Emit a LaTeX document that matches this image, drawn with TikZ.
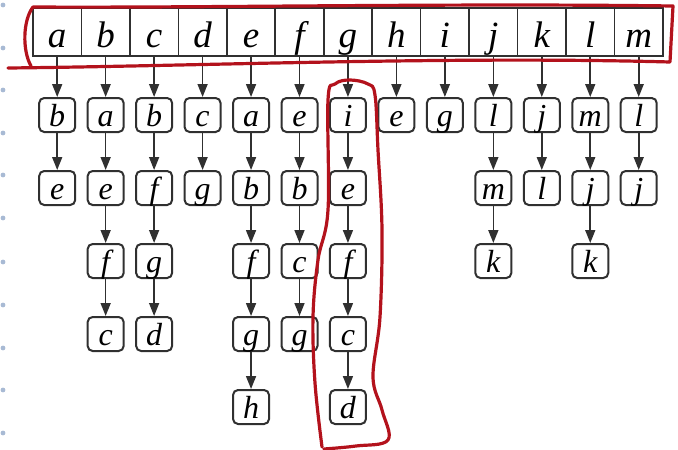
\documentclass[tikz,border=0pt]{standalone}
\usepackage{fontspec}
\setmainfont{Liberation Serif}
\usetikzlibrary{arrows.meta}
\definecolor{ink}{HTML}{303030}
\definecolor{mark}{HTML}{B3121C}
\definecolor{dotc}{HTML}{A8BAD4}
\begin{document}
\begin{tikzpicture}[x=1pt,y=-1pt,
  cell/.style={draw=ink,line width=1.6pt,minimum width=48.46pt,minimum height=48pt,inner sep=0pt,
    text height=30pt,text depth=0pt,font=\fontsize{37}{37}\selectfont\itshape},
  item/.style={draw=ink,line width=2pt,rounded corners=5pt,minimum width=36pt,minimum height=34pt,inner sep=0pt,
    text height=22pt,text depth=0pt,font=\fontsize{32}{32}\selectfont\itshape},
  link/.style={draw=ink,line width=1.6pt,-{Triangle[length=13pt,width=10pt]}},
  redline/.style={draw=mark,line width=3.2pt,line cap=round,line join=round}]
\useasboundingbox (0,0) rectangle (678,450);

% faint margin dots
\foreach \yy in {5,48,90,133,175,218,262,305,348,390,433}
  \fill[dotc] (3,\yy) circle (2.4pt);

% array and adjacency lists
\foreach [count=\i from 0] \col/\lst in {a/{b,e}, b/{a,e,f,c}, c/{b,f,g,d}, d/{c,g},
    e/{a,b,f,g,h}, f/{e,b,c,g}, g/{i,e,f,c,d}, h/{e}, i/{g}, j/{l,m,k},
    k/{j,l}, l/{m,j,k}, m/{l,j}} {
  \node[cell] (cell-\col) at (57.2+48.46*\i,32) {\col};
  \foreach [count=\j] \v in \lst {
    \node[item] (\col-\j) at (57.2+48.46*\i,115+73*\j-73) {\v};
    \ifnum\j=1
      \draw[link] (cell-\col) -- (\col-\j);
    \else
      \pgfmathtruncatemacro\prev{\j-1}
      \draw[link] (\col-\prev) -- (\col-\j);
    \fi
  }
}

% red hand-drawn marks
\draw[redline] (8,68) .. controls (200,66) and (450,56) .. (670,62)
  -- (673,6) .. controls (450,3) and (200,8) .. (33,7)
  .. controls (23,20) and (22,50) .. (31,66);
\draw[redline] plot[smooth,tension=0.6] coordinates {(322,447) (315,383) (313,317) (318,260)
  (328,210) (328,100) (335,84) (350,80) (368,84) (375,95) (378,150) (382,230) (380,317)
  (373,377) (382,410) (388,440) (356,446) (324,449)};
\end{tikzpicture}
\end{document}
